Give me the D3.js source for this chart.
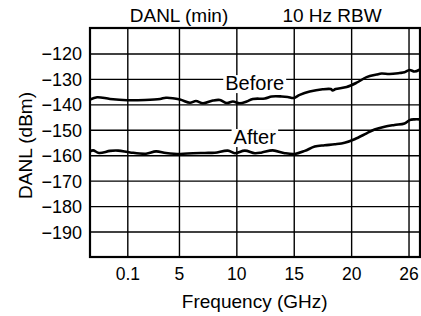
<!DOCTYPE html>
<html>
<head>
<meta charset="utf-8">
<script src="https://cdn.jsdelivr.net/npm/d3@7"></script>
<style>
  html, body { margin: 0; padding: 0; background: #fff; }
  svg { display: block; }
</style>
</head>
<body>
<div id="chart"></div>
<script>
// Frequency axis: gridlines sit on a linear GHz scale, first one is labelled 0.1, last 26
const xTickValues = [0.5, 5, 10, 15, 20, 25]
const xTickLabels = ['0.1', '5', '10', '15', '20', '26']
const yTickValues = [-120, -130, -140, -150, -160, -170, -180, -190]

// DANL traces: [GHz, dBm]
const beforeFreq = [-2.74, -2.13, -1.0, 0.48, 2.04, 3.35, 3.87, 5.09, 5.96, 6.48, 7.09, 7.96, 8.57, 9.17, 9.7, 10.3, 10.9, 11.43, 12.48, 13.09, 13.96, 14.48, 15.0, 15.52, 16.39, 17.52, 18.22, 18.39, 18.65, 19.61, 20.48, 21.35, 22.22, 22.65, 23.35, 24.22, 24.65, 25.09, 25.52, 25.96]
const beforeDbm = [-138.1, -137.2, -137.9, -138.4, -138.3, -137.9, -137.4, -138.1, -139.4, -138.7, -139.6, -138.5, -138.3, -139.5, -138.9, -139.6, -138.9, -137.9, -137.7, -136.9, -136.9, -137.1, -137.5, -136.3, -135.0, -134.1, -134.0, -134.5, -134.0, -133.2, -131.5, -129.3, -128.3, -127.9, -128.1, -127.7, -127.4, -126.5, -127.1, -126.4]

const afterFreq = [-2.74, -2.48, -1.96, -1.0, -0.3, 0.74, 2.13, 3.0, 3.87, 5.09, 6.22, 7.26, 8.13, 9.26, 9.87, 10.74, 11.61, 12.22, 13.17, 14.22, 15.09, 15.96, 16.83, 17.7, 18.57, 19.43, 20.3, 21.35, 22.04, 22.91, 23.78, 24.65, 25.09, 25.52, 25.96]
const afterDbm = [-158.5, -158.1, -159.1, -158.3, -158.2, -158.9, -159.4, -158.5, -159.1, -159.5, -159.2, -159.1, -159.0, -158.2, -159.2, -158.2, -159.2, -158.9, -158.1, -159.2, -159.5, -158.3, -156.6, -156.1, -155.7, -155.1, -153.7, -151.4, -149.9, -148.8, -148.1, -147.5, -146.2, -145.9, -145.9]

const WIDTH = 421
const HEIGHT = 316
const MARGIN = { top: 28, right: 1, bottom: 59, left: 90 }
const FONT = '"Liberation Sans", Arial, sans-serif'

const innerW = WIDTH - MARGIN.left - MARGIN.right
const innerH = HEIGHT - MARGIN.top - MARGIN.bottom

const svg = d3.select('#chart')
  .append('svg')
  .attr('width', WIDTH)
  .attr('height', HEIGHT)

svg.append('rect')
  .attr('width', WIDTH).attr('height', HEIGHT)
  .attr('fill', '#fff')

const g = svg.append('g')
  .attr('transform', `translate(${MARGIN.left},${MARGIN.top})`)

const x = d3.scaleLinear()
  .domain([-2.75, 26])
  .range([0, innerW])

const y = d3.scaleLinear()
  .domain([-200, -110])
  .range([innerH, 0])

// Gridlines
g.append('g')
  .call(d3.axisLeft(y).tickValues(yTickValues).tickSize(-innerW).tickFormat(''))
  .call(sel => sel.select('.domain').remove())
  .call(sel => sel.selectAll('.tick line').attr('stroke', '#000').attr('stroke-width', 1.4))

g.append('g')
  .attr('transform', `translate(0,${innerH})`)
  .call(d3.axisBottom(x).tickValues(xTickValues).tickSize(-innerH).tickFormat(''))
  .call(sel => sel.select('.domain').remove())
  .call(sel => sel.selectAll('.tick line').attr('stroke', '#000').attr('stroke-width', 1.4))

// Frame
g.append('rect')
  .attr('width', innerW).attr('height', innerH)
  .attr('fill', 'none')
  .attr('stroke', '#000')
  .attr('stroke-width', 2.2)

// Y tick labels
g.append('g')
  .call(d3.axisLeft(y).tickValues(yTickValues).tickSize(0).tickPadding(8)
    .tickFormat(d => String(d).replace('-', '\u2212')))
  .call(sel => sel.select('.domain').remove())
  .call(sel => sel.selectAll('.tick text')
    .attr('dy', '0.36em')
    .style('font-size', '18px')
    .style('font-family', FONT)
    .style('fill', '#000'))

// X tick labels
g.append('g')
  .attr('transform', `translate(0,${innerH})`)
  .call(d3.axisBottom(x).tickValues(xTickValues).tickSize(0).tickPadding(11)
    .tickFormat((d, i) => xTickLabels[i]))
  .call(sel => sel.select('.domain').remove())
  .call(sel => sel.selectAll('.tick text')
    .style('font-size', '17.5px')
    .style('font-family', FONT)
    .style('fill', '#000'))

// Traces
const line = d3.line()
  .x(d => x(d[0]))
  .y(d => y(d[1]))
  .curve(d3.curveCatmullRom)

const series = [
  { name: 'Before', data: d3.zip(beforeFreq, beforeDbm), label: [11.6, -134.4] },
  { name: 'After', data: d3.zip(afterFreq, afterDbm), label: [11.6, -155.6] }
]

g.selectAll('.trace')
  .data(series)
  .enter()
  .append('path')
  .attr('class', 'trace')
  .attr('fill', 'none')
  .attr('stroke', '#000')
  .attr('stroke-width', 2.6)
  .attr('stroke-linejoin', 'round')
  .attr('d', d => line(d.data))

// Trace labels on white boxes
series.forEach(s => {
  const lg = g.append('g')
  const t = lg.append('text')
    .attr('x', x(s.label[0]))
    .attr('y', y(s.label[1]))
    .attr('text-anchor', 'middle')
    .style('font-size', '20px')
    .style('font-family', FONT)
    .style('fill', '#000')
    .text(s.name)
  const b = t.node().getBBox()
  lg.insert('rect', 'text')
    .attr('x', b.x - 2).attr('y', b.y + 3)
    .attr('width', b.width + 4).attr('height', b.height - 4)
    .attr('fill', '#fff')
})

// Titles
svg.append('text')
  .attr('x', 179).attr('y', 22)
  .attr('text-anchor', 'middle')
  .style('font-size', '19px').style('font-family', FONT)
  .text('DANL (min)')

svg.append('text')
  .attr('x', 332).attr('y', 22)
  .attr('text-anchor', 'middle')
  .style('font-size', '19px').style('font-family', FONT)
  .text('10 Hz RBW')

svg.append('text')
  .attr('x', MARGIN.left + x(11.6)).attr('y', 308)
  .attr('text-anchor', 'middle')
  .style('font-size', '19px').style('font-family', FONT)
  .text('Frequency (GHz)')

svg.append('text')
  .attr('transform', `translate(32,${MARGIN.top + innerH / 2 + 3}) rotate(-90)`)
  .attr('text-anchor', 'middle')
  .style('font-size', '19px').style('font-family', FONT)
  .text('DANL (dBm)')
</script>
</body>
</html>
